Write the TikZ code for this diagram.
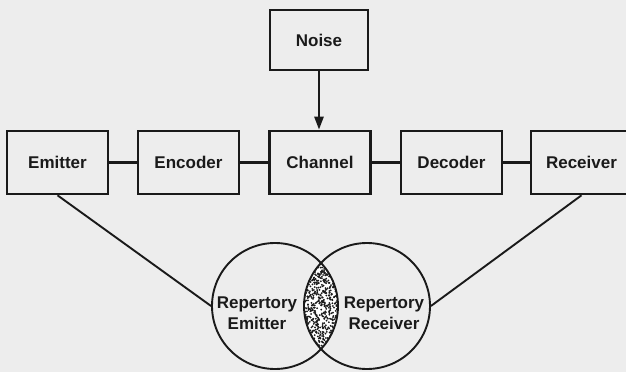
\documentclass[tikz,border=0pt]{standalone}
\usepackage{fontspec}
\setmainfont{Liberation Sans}
\usetikzlibrary{arrows.meta}
\definecolor{paper}{HTML}{EDEDED}
\definecolor{ink}{HTML}{1A1A1A}
\begin{document}
\begin{tikzpicture}[x=1pt,y=-1pt,
  box/.style={draw=ink, line width=2.6pt, fill=paper, minimum width=101pt, minimum height=63pt, inner sep=0pt, font=\fontsize{17}{20}\selectfont\bfseries, text=ink},
  link/.style={draw=ink, line width=2.4pt},
  rep/.style={circle, draw=ink, line width=1.9pt, minimum size=126pt, inner sep=0pt},
  replabel/.style={align=center, font=\fontsize{17}{21}\selectfont\bfseries, text=ink},
  tie/.style={draw=ink, line width=1.9pt}]
\fill[paper] (0,0) rectangle (626,372);
\useasboundingbox (0,0) rectangle (626,372);

% boxes
\node[box, minimum width=98pt, minimum height=60pt] (noise) at (319,40) {Noise};
\node[box] (emitter) at (57.5,162.5) {Emitter};
\node[box] (encoder) at (188.5,162.5) {Encoder};
\node[box] (channel) at (320,162.5) {Channel};
\node[box] (decoder) at (451.5,162.5) {Decoder};
\node[box] (receiver) at (581.5,162.5) {Receiver};

% links
\draw[link] (emitter) -- (encoder);
\draw[link] (encoder) -- (channel);
\draw[link] (channel) -- (decoder);
\draw[link] (decoder) -- (receiver);
\draw[link, -{Triangle[length=13pt,width=9pt]}] (noise.south) -- (noise.south |- channel.north);

% stippled lens
\coordinate (cE) at (275,306);
\coordinate (cR) at (367,306);
\begin{scope}
  \clip (cE) circle[radius=63pt];
  \clip (cR) circle[radius=63pt];
  \fill[white] (290,230) rectangle (350,372);
  \pgfmathsetseed{7}
  \foreach \i in {1,...,760} {
    \pgfmathsetmacro\px{302+38*rnd}
    \pgfmathsetmacro\py{260+94*rnd}
    \fill[ink] (\px,\py) circle[radius=1pt];
  }
\end{scope}

% repertory circles
\node[rep] (repE) at (cE) {};
\node[rep] (repR) at (cR) {};
\node[replabel] (repEl) at (257,313) {Repertory\\Emitter};
\node[replabel] (repRl) at (384,313) {Repertory\\Receiver};

\draw[tie] (emitter.south) -- (repE.west);
\draw[tie] (receiver.south) -- (repR.east);
\end{tikzpicture}
\end{document}
